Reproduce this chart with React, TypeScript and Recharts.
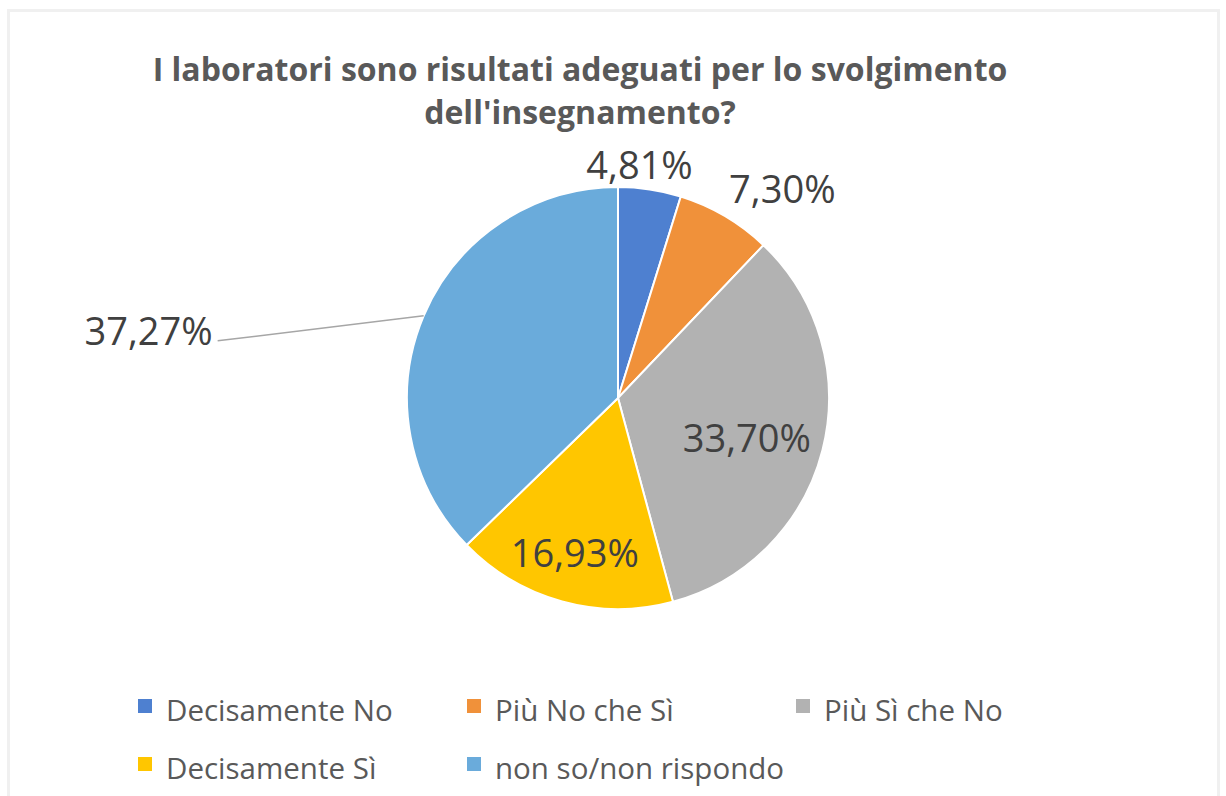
import React from "react";
import { PieChart, Pie, Cell, Legend } from "recharts";

// categorie e valori (%)
const categories = ["Decisamente No", "Più No che Sì", "Più Sì che No", "Decisamente Sì", "non so/non rispondo"];
const percentages = [4.81, 7.3, 33.7, 16.93, 37.27];
const colors = ["#4E80D0", "#F0913A", "#B2B2B2", "#FFC600", "#6AABDB"];
const titleLines = ["I laboratori sono risultati adeguati per lo svolgimento", "dell'insegnamento?"];

// posizione delle etichette rispetto al raggio (r = frazione del raggio esterno)
const labelPlacement = [
  { r: 1.12, dx: -14, dy: 0, anchor: "middle" },
  { r: 1.17, dx: -14, dy: 3, anchor: "start" },
  { r: 0.63, dx: 0, dy: 6, anchor: "middle" },
  { r: 0.755, dx: -1, dy: 0, anchor: "middle" },
  { leader: true, lx: -206, ly: 25 },
];

const data = categories.map((name, i) => ({ name, value: percentages[i] }));

const RAD = Math.PI / 180;
const FONT = "'Open Sans', sans-serif";

const fmt = (v: number) => v.toFixed(2).replace(".", ",") + "%";

const renderLabel = (props: any) => {
  const { cx, cy, midAngle, outerRadius, index, value } = props;
  const p: any = labelPlacement[index];
  const cos = Math.cos(-midAngle * RAD);
  const sin = Math.sin(-midAngle * RAD);
  const textStyle = { fontFamily: FONT, fontSize: 38, fill: "#404040" };

  if (p.leader) {
    const sx = cx + outerRadius * cos;
    const sy = cy + outerRadius * sin;
    const ex = sx + p.lx;
    const ey = sy + p.ly;
    return (
      <g>
        <path d={`M${sx},${sy}L${ex},${ey}`} stroke="#A6A6A6" strokeWidth={1.5} fill="none" />
        <text x={ex - 5} y={ey - 11} textAnchor="end" dominantBaseline="central" style={textStyle}>
          {fmt(value)}
        </text>
      </g>
    );
  }

  const x = cx + outerRadius * p.r * cos + p.dx;
  const y = cy + outerRadius * p.r * sin + p.dy;
  return (
    <text x={x} y={y} textAnchor={p.anchor} dominantBaseline="central" style={textStyle}>
      {fmt(value)}
    </text>
  );
};

const renderLegend = () => (
  <div style={{ display: "grid", gridTemplateColumns: "329px 329px 329px", fontFamily: FONT }}>
    {categories.map((c, i) => (
      <div key={c} style={{ display: "flex", alignItems: "center", height: 58 }}>
        <span style={{ width: 14, height: 14, background: colors[i], marginRight: 14, marginTop: -6 }} />
        <span style={{ fontSize: 29.5, color: "#595959" }}>{c}</span>
      </div>
    ))}
  </div>
);

export default function App() {
  return (
    <div style={{ position: "absolute", left: 0, top: 0, width: 1226, height: 796, background: "#fff", overflow: "hidden" }}>
      <div
        style={{
          position: "absolute",
          left: 7,
          top: 9,
          width: 1213,
          height: 800,
          border: "3px solid #F0F0F0",
          boxSizing: "border-box",
        }}
      />
      <div
        style={{
          position: "absolute",
          left: 80,
          width: 1000,
          top: 47,
          textAlign: "center",
          fontFamily: FONT,
          fontWeight: 700,
          fontSize: 32,
          lineHeight: "43px",
          color: "#595959",
        }}
      >
        {titleLines.map((t) => (
          <div key={t}>{t}</div>
        ))}
      </div>
      <PieChart width={1226} height={796} margin={{ top: 0, right: 0, bottom: 0, left: 0 }} style={{ position: "absolute", left: 0, top: 0 }}>
        <Pie
          data={data}
          dataKey="value"
          nameKey="name"
          cx={618}
          cy={398}
          outerRadius={211}
          startAngle={90}
          endAngle={-270}
          stroke="#FFFFFF"
          strokeWidth={2}
          label={renderLabel}
          labelLine={false}
          isAnimationActive={false}
        >
          {data.map((d, i) => (
            <Cell key={d.name} fill={colors[i]} />
          ))}
        </Pie>
        <Legend content={renderLegend} wrapperStyle={{ position: "absolute", left: 138, top: 680, width: 1000 }} />
      </PieChart>
    </div>
  );
}
